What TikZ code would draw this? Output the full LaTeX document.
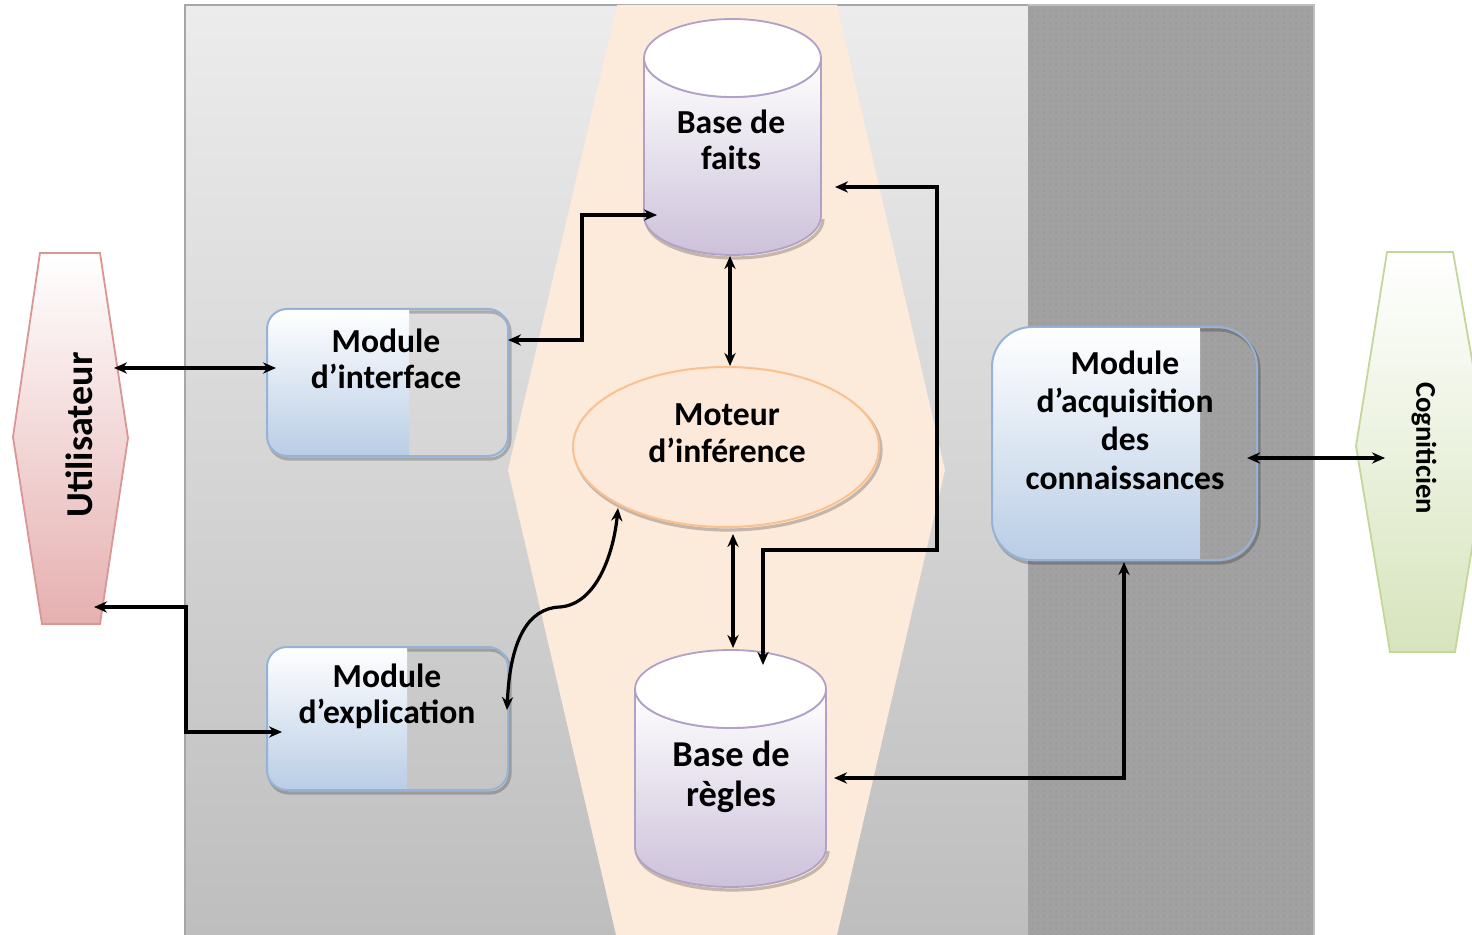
\documentclass[tikz,border=0pt]{standalone}
\usepackage{fontspec}
\setmainfont{Carlito}
\usetikzlibrary{arrows.meta,shapes.geometric,patterns}
\definecolor{panelTop}{RGB}{236,236,236}
\definecolor{panelBot}{RGB}{190,190,190}
\definecolor{darkpanel}{RGB}{161,161,161}
\definecolor{peach}{RGB}{252,234,218}
\definecolor{userpink}{RGB}{230,176,176}
\definecolor{userborder}{RGB}{217,150,148}
\definecolor{cogngreen}{RGB}{215,228,189}
\definecolor{cognborder}{RGB}{195,214,155}
\definecolor{boxblue}{RGB}{185,205,229}
\definecolor{boxborder}{RGB}{149,179,215}
\definecolor{cylpurple}{RGB}{204,193,218}
\definecolor{cylborder}{RGB}{178,161,199}
\definecolor{motfill}{RGB}{253,233,217}
\definecolor{motborder}{RGB}{250,192,144}
\tikzset{
  lbl/.style={font=\bfseries\fontsize{16.8}{18}\selectfont, align=center, inner sep=0pt},
  link/.style={line width=1.6pt, {Stealth[length=6.5pt,width=5.6pt]}-{Stealth[length=6.5pt,width=5.6pt]}},
  shadowline/.style={draw=black, opacity=0.22, line width=1.6pt},
}
\newcommand\modbox[6]{%
  \draw[shadowline, rounded corners=#6] (#1+2,#2+3) rectangle (#3+2,#4+3);
  \begin{scope}
    \clip[rounded corners=#6] (#1,#2) rectangle (#3,#4);
    \shade[top color=white, bottom color=boxblue] (#1,#2) rectangle (#5,#4);
  \end{scope}
  \draw[draw=boxborder, line width=1pt, rounded corners=#6] (#1,#2) rectangle (#3,#4);
}
\newcommand\cylshape[5]{%
  \draw[shadowline] (#1-#2+2,#4+3) arc[start angle=180, end angle=0, x radius=#2, y radius=#5];
  \shadedraw[top color=white, bottom color=cylpurple, draw=cylborder, line width=0.9pt]
    (#1-#2,#3) -- (#1-#2,#4) arc[start angle=180, end angle=0, x radius=#2, y radius=#5]
    -- (#1+#2,#3) arc[start angle=0, end angle=180, x radius=#2, y radius=#5] -- cycle;
  \filldraw[fill=white, draw=cylborder, line width=0.9pt] (#1,#3) ellipse[x radius=#2, y radius=#5];
}
\begin{document}
\begin{tikzpicture}[x=0.5pt,y=-0.5pt]
\useasboundingbox (0,0) rectangle (1472,935);
\fill[white] (0,0) rectangle (1472,935);
% background panels
\shade[top color=panelTop, bottom color=panelBot] (185,5) rectangle (1028,935);
\draw[black!35, line width=0.7pt] (185,935) -- (185,5) -- (1028,5);
\fill[darkpanel] (1028,5) rectangle (1314,935);
\fill[pattern=dots, pattern color=black!50, opacity=0.25] (1028,5) rectangle (1314,935);
\draw[black!25, line width=0.7pt] (1028,5) -- (1314,5) -- (1314,935);
\fill[peach] (617,5) -- (837,5) -- (945,470) -- (837,935) -- (616,935) -- (508,470) -- cycle;

% actors
\shadedraw[top color=white, bottom color=userpink, draw=userborder, line width=0.9pt]
  (40,253) -- (100,253) -- (128,438) -- (100,624) -- (42,624) -- (13,437) -- cycle;
\node[font=\bfseries\fontsize{19}{22}\selectfont, rotate=90, inner sep=0pt] (user) at (79,435) {Utilisateur};
\shadedraw[top color=white, bottom color=cogngreen, draw=cognborder, line width=0.9pt]
  (1387,252) -- (1453,252) -- (1488,450) -- (1455,652) -- (1390,652) -- (1356,446) -- cycle;
\node[font=\bfseries\fontsize{14.3}{18}\selectfont, rotate=-90, inner sep=0pt] (cogn) at (1424,448) {Cogniticien};

% modules
\modbox{267}{309}{508}{456}{409}{10pt}
\node[lbl] (mi) at (386,359) {Module\\d’interface};
\modbox{267}{647}{508}{790}{407}{10pt}
\node[lbl] (me) at (387,696) {Module\\d’explication};
\modbox{992}{327}{1257}{560}{1200}{20pt}
\node[lbl, font=\bfseries\fontsize{16.8}{19.2}\selectfont] (ma) at (1125,420) {Module\\d’acquisition\\des\\connaissances};

% bases
\cylshape{732.5}{88.5}{58}{216}{39}
\node[lbl] (bf) at (731,140) {Base de\\faits};
\cylshape{730.5}{95.5}{689}{848}{39}
\node[lbl, font=\bfseries\fontsize{18.2}{20}\selectfont] (br) at (731,777) {Base de\\règles};

% inference engine
\draw[shadowline] (728,450) ellipse[x radius=153, y radius=80];
\filldraw[fill=motfill, draw=motborder, line width=1pt] (726,447) ellipse[x radius=153, y radius=80];
\node[lbl, font=\bfseries\fontsize{16.8}{18.5}\selectfont] (mot) at (727,433) {Moteur\\d’inférence};

% connector end points
\coordinate (u1) at (114,368);
\coordinate (mi1) at (276,368);
\coordinate (mi2) at (508,340);
\coordinate (bf1) at (657,215);
\coordinate (bf2) at (730,256);
\coordinate (mot1) at (730,366);
\coordinate (mot2) at (733,534);
\coordinate (br1) at (733,648);
\coordinate (bf3) at (835,187);
\coordinate (br2) at (763,665);
\coordinate (u2) at (94,607);
\coordinate (me1) at (282,732);
\coordinate (me2) at (507,710);
\coordinate (mot3) at (618,508);
\coordinate (br3) at (834,778);
\coordinate (ma1) at (1124,562);
\coordinate (ma2) at (1247,458);
\coordinate (co1) at (1385,458);

% connectors
\draw[link] (u1) -- (mi1);
\draw[link] (mi2) -- ++(74,0) |- (bf1);
\draw[link] (bf2) -- (mot1);
\draw[link] (mot2) -- (br1);
\draw[link] (bf3) -| ++(102,363) -| (br2);
\draw[link] (u2) -| ++(92,125) -- (me1);
\draw[link] (me2) .. controls (510,640) and (528,608) .. (560,607)
                 .. controls (598,604) and (614,550) .. (mot3);
\draw[link] (br3) -| (ma1);
\draw[link] (ma2) -- (co1);
\end{tikzpicture}
\end{document}
